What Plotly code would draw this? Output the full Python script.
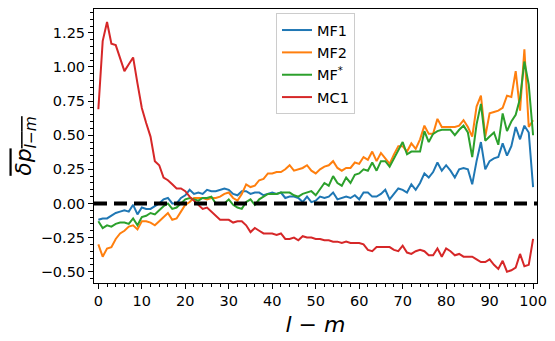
import plotly.graph_objects as go

l_minus_m = list(range(0, 101))

mf1 = [-0.12, -0.11, -0.11, -0.09, -0.07, -0.06, -0.05, -0.06, -0.01, -0.08,
       -0.03, -0.04, -0.04, -0.02, 0.00, 0.03, 0.04, 0.00, 0.00, 0.04,
       0.06, 0.10, 0.07, 0.08, 0.07, 0.10, 0.09, 0.09, 0.10, 0.11,
       0.10, 0.07, 0.06, 0.09, 0.09, 0.07, 0.08, 0.08, 0.06, 0.07,
       0.08, 0.07, 0.08, 0.04, 0.05, 0.05, 0.04, 0.01, 0.05, 0.01,
       0.02, 0.05, 0.04, 0.05, 0.08, 0.03, 0.04, 0.05, 0.04, 0.06,
       0.03, 0.08, 0.08, 0.05, 0.05, 0.07, 0.10, 0.03, 0.07, 0.11,
       0.10, 0.08, 0.14, 0.10, 0.15, 0.22, 0.19, 0.23, 0.30, 0.24,
       0.28, 0.24, 0.19, 0.25, 0.26, 0.25, 0.14, 0.31, 0.45, 0.25,
       0.31, 0.33, 0.34, 0.44, 0.35, 0.42, 0.56, 0.47, 0.57, 0.52,
       0.12]

mf2 = [-0.30, -0.39, -0.33, -0.32, -0.26, -0.22, -0.20, -0.17, -0.16, -0.19,
       -0.13, -0.13, -0.14, -0.16, -0.13, -0.10, -0.07, -0.12, -0.11, -0.06,
       -0.01, 0.01, 0.04, 0.04, 0.04, 0.03, 0.04, 0.04, 0.05, 0.07,
       0.08, 0.04, 0.02, 0.07, 0.14, 0.12, 0.13, 0.17, 0.18, 0.22,
       0.22, 0.23, 0.23, 0.25, 0.28, 0.24, 0.25, 0.26, 0.28, 0.24,
       0.22, 0.25, 0.27, 0.28, 0.31, 0.26, 0.24, 0.26, 0.26, 0.30,
       0.29, 0.34, 0.32, 0.38, 0.31, 0.37, 0.33, 0.29, 0.36, 0.42,
       0.42, 0.38, 0.44, 0.40, 0.47, 0.57, 0.51, 0.51, 0.62, 0.56,
       0.56, 0.56, 0.56, 0.57, 0.61, 0.56, 0.49, 0.71, 0.79, 0.49,
       0.66, 0.67, 0.68, 0.70, 0.79, 0.78, 0.97, 0.68, 1.13, 0.56,
       0.61]

mf_star = [-0.13, -0.18, -0.16, -0.17, -0.15, -0.14, -0.14, -0.15, -0.11, -0.16,
           -0.10, -0.09, -0.07, -0.08, -0.05, -0.02, 0.00, -0.04, -0.03, 0.00,
           0.03, 0.04, 0.03, 0.02, 0.04, 0.04, 0.05, 0.00, 0.00, 0.00,
           0.03, -0.01, -0.03, -0.04, 0.01, 0.03, -0.01, 0.03, 0.05, 0.07,
           0.07, 0.07, 0.08, 0.08, 0.08, 0.06, 0.05, 0.07, 0.08, 0.09,
           0.06, 0.11, 0.15, 0.13, 0.20, 0.15, 0.13, 0.19, 0.15, 0.21,
           0.22, 0.25, 0.24, 0.30, 0.24, 0.31, 0.31, 0.27, 0.33, 0.38,
           0.45, 0.36, 0.38, 0.38, 0.38, 0.53, 0.45, 0.51, 0.53, 0.54,
           0.54, 0.54, 0.50, 0.54, 0.57, 0.52, 0.34, 0.58, 0.73, 0.46,
           0.49, 0.52, 0.43, 0.66, 0.53, 0.60, 0.65, 0.77, 1.04, 0.87,
           0.50]

mc1 = [0.69, 1.19, 1.33, 1.17, 1.16, 1.06, 0.97, 1.02, 1.07, 0.88,
       0.70, 0.59, 0.49, 0.31, 0.28, 0.19, 0.17, 0.14, 0.11, 0.11,
       0.09, 0.05, 0.02, -0.01, -0.04, -0.03, -0.06, -0.09, -0.12, -0.12,
       -0.12, -0.14, -0.13, -0.13, -0.16, -0.21, -0.18, -0.20, -0.22, -0.22,
       -0.22, -0.23, -0.22, -0.26, -0.26, -0.25, -0.27, -0.24, -0.25, -0.25,
       -0.26, -0.26, -0.27, -0.27, -0.28, -0.28, -0.29, -0.28, -0.29, -0.29,
       -0.29, -0.30, -0.34, -0.35, -0.32, -0.32, -0.32, -0.32, -0.34, -0.35,
       -0.31, -0.36, -0.37, -0.35, -0.34, -0.35, -0.38, -0.38, -0.33, -0.39,
       -0.33, -0.35, -0.38, -0.37, -0.39, -0.39, -0.39, -0.41, -0.43, -0.43,
       -0.41, -0.45, -0.48, -0.42, -0.50, -0.49, -0.47, -0.37, -0.46, -0.45,
       -0.26]

series_names = ["MF1", "MF2", "MF<sup>*</sup>", "MC1"]
series_values = [mf1, mf2, mf_star, mc1]
series_colors = ["#1f77b4", "#ff7f0e", "#2ca02c", "#d62728"]

x_ticks = [0, 10, 20, 30, 40, 50, 60, 70, 80, 90, 100]
y_ticks = [-0.50, -0.25, 0.00, 0.25, 0.50, 0.75, 1.00, 1.25]

fig = go.Figure()
for i, (name, vals, col) in enumerate(zip(series_names, series_values, series_colors)):
    fig.add_trace(go.Scatter(x=l_minus_m, y=vals, mode="lines", name=name,
                             legendgroup="g%d" % i,
                             line=dict(color=col, width=2)))

fig.add_shape(type="line", xref="paper", x0=0, x1=1, yref="y", y0=0, y1=0,
              line=dict(color="black", width=4, dash="13px,7px"), layer="above")

font_family = "DejaVu Sans"
fig.update_layout(
    width=555, height=341,
    margin=dict(l=94, r=9, t=8, b=49),
    plot_bgcolor="white", paper_bgcolor="white",
    font=dict(family=font_family, size=14.5, color="black"),
    showlegend=True,
    legend=dict(x=0.5, xanchor="center", y=0.985, yanchor="top",
                bgcolor="rgba(255,255,255,0.8)", bordercolor="#cccccc",
                borderwidth=1, font=dict(size=14.5), itemwidth=30,
                tracegroupgap=0.5),
    xaxis=dict(range=[-1.0, 100.9], tickvals=x_ticks, ticks="outside",
               ticklen=5, tickwidth=1, tickcolor="black",
               showline=True, linecolor="black", linewidth=1, mirror=True,
               showgrid=False, zeroline=False, ticklabeloverflow="allow",
               minor=dict(dtick=2, ticks="outside", ticklen=3, tickcolor="black", tickwidth=1),
               title=dict(text="<i>l</i> − <i>m</i>", font=dict(size=22), standoff=8)),
    yaxis=dict(range=[-0.583, 1.425], tickvals=y_ticks, tickformat=".2f",
               ticks="outside", ticklen=5, tickwidth=1, tickcolor="black",
               showline=True, linecolor="black", linewidth=1, mirror=True,
               showgrid=False, zeroline=False,
               minor=dict(dtick=0.05, ticks="outside", ticklen=3, tickcolor="black", tickwidth=1),
               title=dict(text='<span style="text-decoration:overline"><i>δp</i><sub><i>l</i>−<i>m</i></sub></span>',
                          font=dict(size=22), standoff=2)),
)

fig.write_html("out.html")
